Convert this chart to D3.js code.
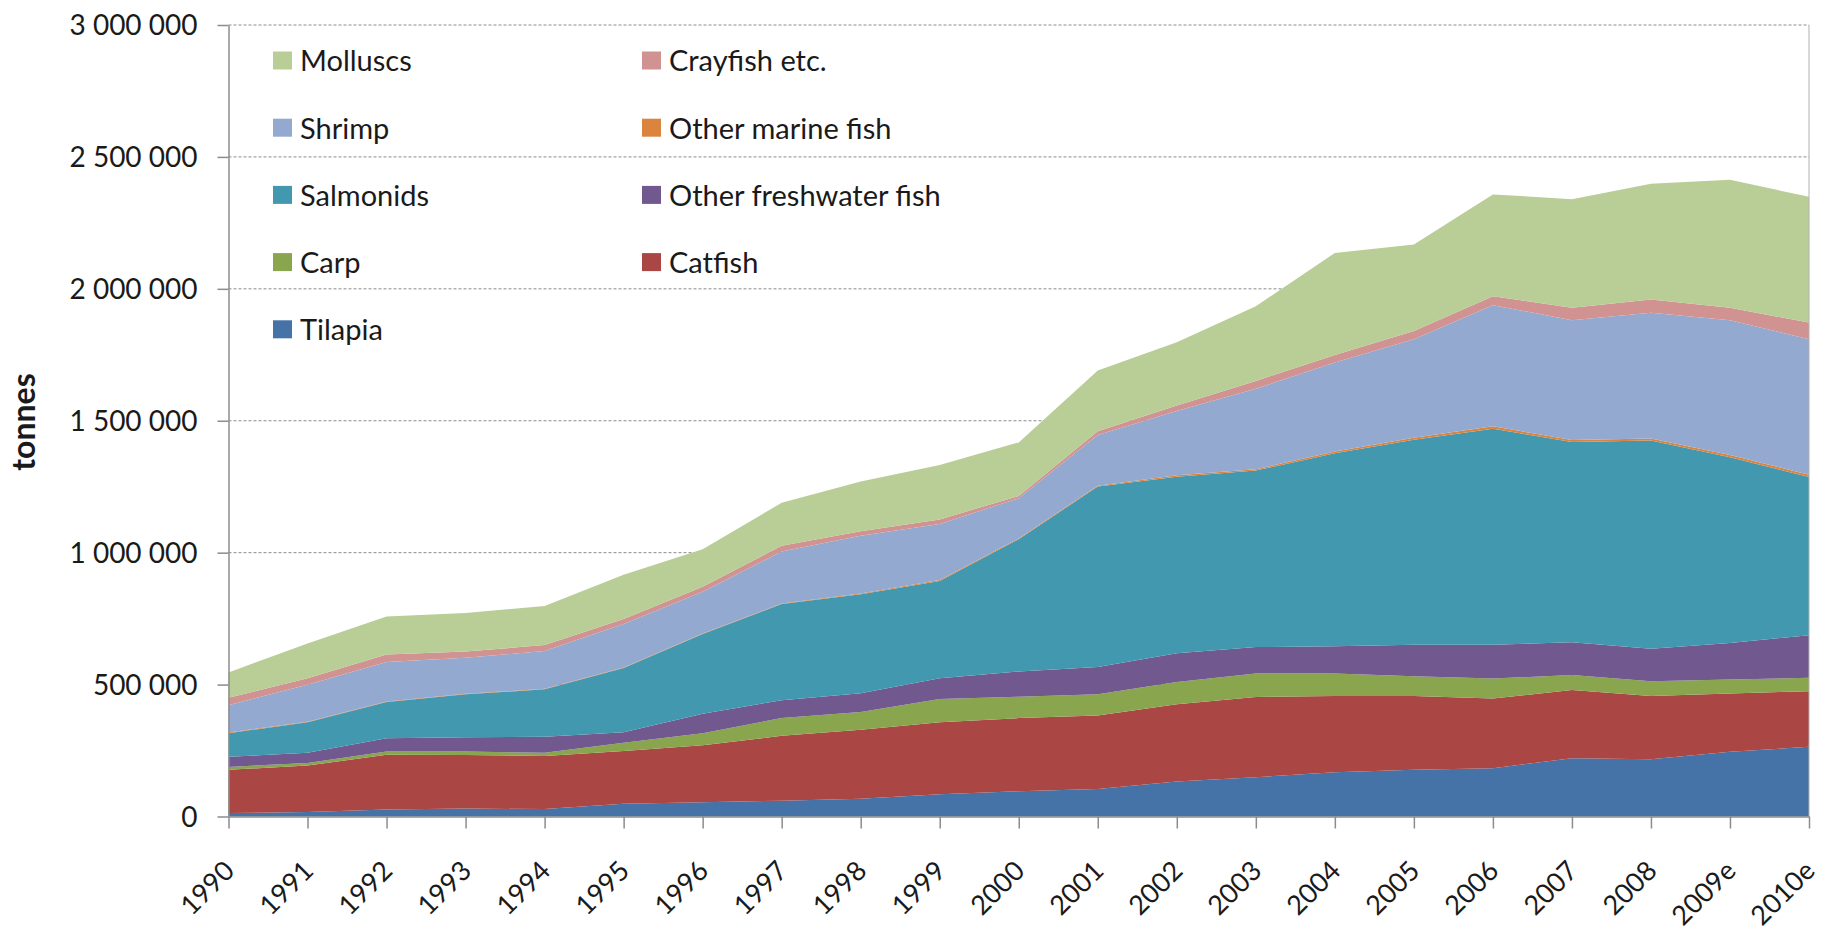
<!DOCTYPE html>
<html>
<head>
<meta charset="utf-8">
<script src="https://cdn.jsdelivr.net/npm/d3@7"></script>
<style>
  html, body { margin: 0; padding: 0; background: #fff; }
  svg { display: block; }
  text { font-family: "Lato", "Open Sans", sans-serif; fill: #1a1a1a; }
</style>
</head>
<body>
<svg id="chart" width="1835" height="932"></svg>
<script>
// ---- Data (tonnes) ----
const years = ["1990","1991","1992","1993","1994","1995","1996","1997","1998","1999","2000",
               "2001","2002","2003","2004","2005","2006","2007","2008","2009e","2010e"];

const tilapia     = [13,17,27,30,28,48,54,60,67,84,96,104,133,149,168,177,183,221,217,245,264].map(v => v*1000);
const catfish     = [164,176,207,203,201,200,216,246,262,273,277,279,292,304,289,280,264,258,240,221,211].map(v => v*1000);
const carp        = [11,10,12,13,13,32,46,67,67,88,81,80,85,89,85,75,76,57,56,53,51].map(v => v*1000);
const otherFresh  = [38,39,51,54,60,39,73,68,71,79,96,104,109,100,103,119,128,124,123,139,161].map(v => v*1000);
const salmonids   = [90,115,137,163,180,244,303,364,375,369,501,684,669,669,732,777,819,759,789,704,600].map(v => v*1000);
const otherMarine = [2,2,2,2,2,2,2,2,3,3,3,3,5,5,6,8,9,8,8,8,8].map(v => v*1000);
const shrimp      = [104,140,150,137,143,165,158,197,219,213,152,192,244,305,338,373,459,454,476,511,514].map(v => v*1000);
const crayfish    = [28,25,28,23,23,19,19,22,17,17,9,14,21,30,28,31,34,47,51,47,63].map(v => v*1000);
const molluscs    = [96,132,144,146,148,167,142,163,189,206,203,230,240,283,387,328,386,412,438,485,477].map(v => v*1000);

const seriesNames  = ["Tilapia","Catfish","Carp","Other freshwater fish","Salmonids","Other marine fish","Shrimp","Crayfish etc.","Molluscs"];
const seriesValues = [tilapia, catfish, carp, otherFresh, salmonids, otherMarine, shrimp, crayfish, molluscs];
const seriesColors = ["#4572A7","#AA4643","#89A54E","#71588F","#4198AF","#DB843D","#93A9CF","#D19392","#B9CD96"];

const yTicks = [0, 500000, 1000000, 1500000, 2000000, 2500000, 3000000];

// legend layout: column 1 / column 2 orders
const legendCol1 = ["Molluscs","Shrimp","Salmonids","Carp","Tilapia"];
const legendCol2 = ["Crayfish etc.","Other marine fish","Other freshwater fish","Catfish"];

// ---- Chart ----
const svg = d3.select("#chart");
const mLeft = 228.5, mRight = 1809, mTop = 25, mBottom = 816.5;

const x = d3.scalePoint().domain(years).range([mLeft, mRight]);
const y = d3.scaleLinear().domain([0, 3000000]).range([mBottom, mTop]);

const table = years.map((yr, i) => {
  const row = { year: yr };
  seriesNames.forEach((n, j) => row[n] = seriesValues[j][i]);
  return row;
});
const stacked = d3.stack().keys(seriesNames)(table);

// gridlines
const fmt = d3.formatLocale({ decimal: ",", thousands: " ", grouping: [3], currency: ["", ""] }).format(",d");
svg.append("g").selectAll("line").data(yTicks.filter(d => d > 0)).join("line")
  .attr("x1", mLeft).attr("x2", mRight)
  .attr("y1", d => y(d)).attr("y2", d => y(d))
  .attr("stroke", "#8c8c8c").attr("stroke-width", 1)
  .attr("stroke-dasharray", "3,2");

// areas
const area = d3.area()
  .x(d => x(d.data.year))
  .y0(d => y(d[0]))
  .y1(d => y(d[1]));
svg.append("g").selectAll("path").data(stacked).join("path")
  .attr("d", area)
  .attr("fill", (d, i) => seriesColors[i]);

// y axis
const yAxis = d3.axisLeft(y).tickValues(yTicks).tickSize(11).tickSizeOuter(0).tickPadding(20).tickFormat(fmt);
const gy = svg.append("g").attr("transform", `translate(${mLeft},0)`).call(yAxis);
gy.select(".domain").attr("stroke", "#8c8c8c").attr("stroke-width", 1.5);
gy.selectAll(".tick line").attr("stroke", "#8c8c8c").attr("stroke-width", 1.5);
gy.selectAll(".tick text").attr("font-size", 28).attr("font-family", "Lato, sans-serif").attr("fill", "#1a1a1a").attr("dy", "0.34em");

// right border
svg.append("line").attr("x1", mRight).attr("x2", mRight).attr("y1", mTop).attr("y2", mBottom)
  .attr("stroke", "#b0b0b0").attr("stroke-width", 1);

// x axis
const xAxis = d3.axisBottom(x).tickSize(12).tickSizeOuter(0).tickPadding(0);
const gx = svg.append("g").attr("transform", `translate(0,${mBottom})`).call(xAxis);
gx.select(".domain").attr("stroke", "#8c8c8c").attr("stroke-width", 1.5);
gx.selectAll(".tick line").attr("stroke", "#8c8c8c").attr("stroke-width", 1.5);
gx.selectAll(".tick text")
  .attr("font-size", 27).attr("font-family", "Lato, sans-serif").attr("fill", "#1a1a1a")
  .attr("text-anchor", "end")
  .attr("y", 0).attr("dy", 0)
  .attr("transform", "translate(7,56) rotate(-45)");

// y label
svg.append("text")
  .attr("transform", "translate(35,422) rotate(-90)")
  .attr("text-anchor", "middle")
  .attr("font-size", 32).attr("font-weight", "bold")
  .text("tonnes");

// legend
const colorOf = n => seriesColors[seriesNames.indexOf(n)];
function legendColumn(names, x0) {
  const g = svg.append("g");
  names.forEach((n, i) => {
    const cy = 61 + i * 67.2;
    g.append("rect").attr("x", x0).attr("y", cy - 9.5).attr("width", 19).attr("height", 18).attr("fill", colorOf(n));
    g.append("text").attr("x", x0 + 27).attr("y", cy).attr("dy", "0.36em")
      .attr("font-size", 29).text(n);
  });
}
legendColumn(legendCol1, 273);
legendColumn(legendCol2, 642);
</script>
</body>
</html>
